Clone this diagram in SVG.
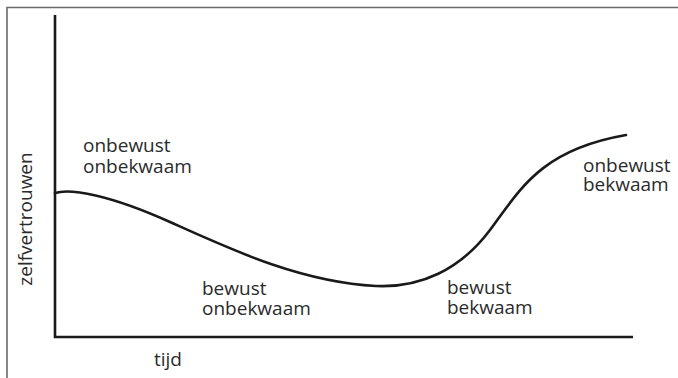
<svg xmlns="http://www.w3.org/2000/svg" width="678" height="378" viewBox="0 0 678 378">
<style>
.lbl{font-family:"Open Sans","Noto Sans",sans-serif;font-size:19px;fill:#2b2b2b}
.ax{stroke:#1a1a1a;stroke-width:2.6;fill:none}
.frame{stroke:#6a6a6a;stroke-width:1.6;fill:none}
.curve{stroke:#1a1a1a;stroke-width:2.6;fill:none;stroke-linecap:round}
</style>
<rect width="678" height="378" fill="#fff"/>
<path class="frame" d="M7,378 V7.5 H678"/>
<g id="axes">
<path class="ax" d="M55,15 V337 H633"/>
<text class="lbl" x="154" y="366">tijd</text>
<text class="lbl" transform="translate(32,219) rotate(-90)" text-anchor="middle">zelfvertrouwen</text>
</g>
<g id="connectors">
<path class="curve" d="M55,193 C70,188 110,195 170,222 S300,282 376,286 C420,288 460,270 490,230 S540,150 626,135"/>
</g>
<g id="onbewust-onbekwaam"><text class="lbl" x="83" y="152">onbewust</text><text class="lbl" x="83" y="173">onbekwaam</text></g>
<g id="bewust-onbekwaam"><text class="lbl" x="202" y="295">bewust</text><text class="lbl" x="202" y="315">onbekwaam</text></g>
<g id="bewust-bekwaam"><text class="lbl" x="447" y="294">bewust</text><text class="lbl" x="447" y="314">bekwaam</text></g>
<g id="onbewust-bekwaam"><text class="lbl" x="583" y="172">onbewust</text><text class="lbl" x="583" y="191">bekwaam</text></g>
</svg>
